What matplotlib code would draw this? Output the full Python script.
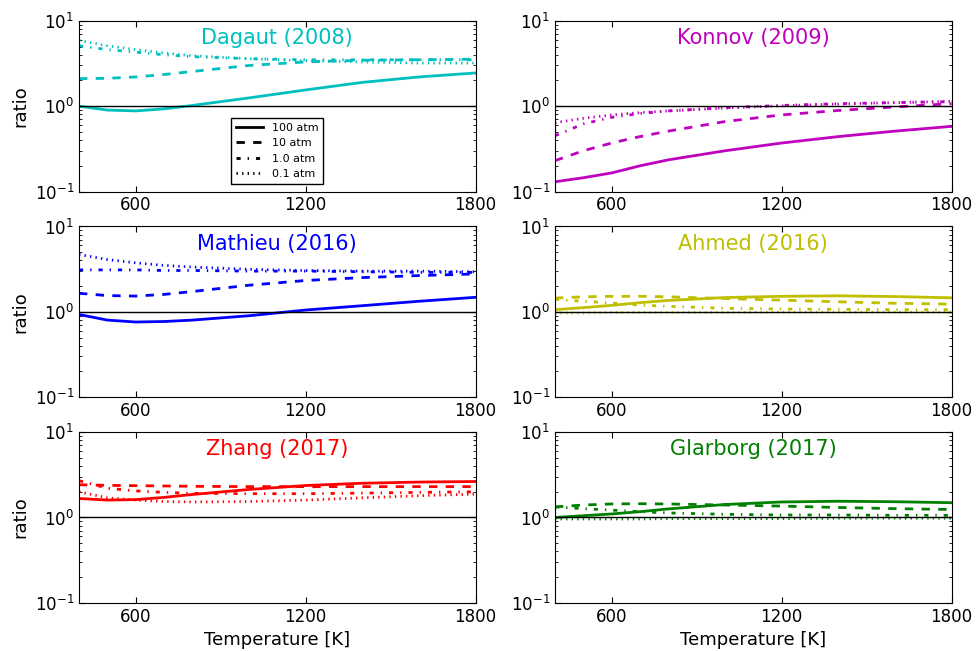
import matplotlib
matplotlib.use('Agg')
import matplotlib.pyplot as plt
from matplotlib.lines import Line2D
import numpy as np

# old-style dash patterns, not scaled with line width
plt.rcParams['lines.scale_dashes'] = False
plt.rcParams['lines.dashed_pattern'] = [6, 6]
plt.rcParams['lines.dashdot_pattern'] = [3, 5, 1, 5]
plt.rcParams['lines.dotted_pattern'] = [1, 3]
plt.rcParams['xtick.direction'] = 'in'
plt.rcParams['ytick.direction'] = 'in'
plt.rcParams['xtick.top'] = True
plt.rcParams['ytick.right'] = True
plt.rcParams['xtick.major.size'] = 4
plt.rcParams['ytick.major.size'] = 4
plt.rcParams['ytick.minor.size'] = 2.5
plt.rcParams['ytick.minor.visible'] = True
plt.rcParams['font.size'] = 12

T = [400, 500, 600, 700, 800, 1000, 1200, 1400, 1600, 1800]
pressures = ['100 atm', '10 atm', '1.0 atm', '0.1 atm']
styles = ['-', '--', '-.', ':']

models = ['Dagaut (2008)', 'Konnov (2009)', 'Mathieu (2016)',
          'Ahmed (2016)', 'Zhang (2017)', 'Glarborg (2017)']
colors = [(0, 0.75, 0.75), (0.75, 0, 0.75), (0, 0, 1),
          (0.75, 0.75, 0), (1, 0, 0), (0, 0.5, 0)]

# rate ratio for each model, rows: 100, 10, 1.0, 0.1 atm
dagaut = [
    [1.0, 0.9, 0.88, 0.93, 1.02, 1.25, 1.55, 1.9, 2.2, 2.45],
    [2.1, 2.12, 2.2, 2.35, 2.55, 3.0, 3.3, 3.45, 3.5, 3.55],
    [5.1, 4.6, 4.3, 4.0, 3.8, 3.6, 3.5, 3.5, 3.5, 3.5],
    [5.9, 5.1, 4.6, 4.2, 3.9, 3.6, 3.4, 3.3, 3.2, 3.2],
]
konnov = [
    [0.13, 0.145, 0.165, 0.2, 0.235, 0.3, 0.37, 0.44, 0.51, 0.58],
    [0.23, 0.3, 0.37, 0.44, 0.51, 0.66, 0.79, 0.89, 0.98, 1.07],
    [0.45, 0.62, 0.74, 0.82, 0.88, 0.96, 1.02, 1.07, 1.1, 1.13],
    [0.64, 0.72, 0.79, 0.84, 0.88, 0.95, 1.01, 1.06, 1.1, 1.14],
]
mathieu = [
    [0.93, 0.8, 0.76, 0.77, 0.8, 0.9, 1.05, 1.18, 1.33, 1.48],
    [1.65, 1.55, 1.53, 1.6, 1.73, 2.05, 2.33, 2.52, 2.66, 2.78],
    [3.1, 3.1, 3.1, 3.05, 3.05, 3.0, 3.0, 2.95, 2.9, 2.9],
    [4.7, 4.1, 3.75, 3.5, 3.35, 3.15, 3.05, 3.0, 3.0, 2.95],
]
ahmed = [
    [1.06, 1.12, 1.19, 1.28, 1.36, 1.47, 1.52, 1.54, 1.51, 1.46],
    [1.45, 1.5, 1.52, 1.52, 1.5, 1.43, 1.37, 1.31, 1.26, 1.23],
    [1.4, 1.33, 1.27, 1.2, 1.16, 1.1, 1.08, 1.07, 1.06, 1.06],
    [0.97, 0.97, 0.98, 0.98, 0.98, 0.98, 0.99, 0.99, 0.99, 0.99],
]
zhang = [
    [1.67, 1.6, 1.62, 1.72, 1.86, 2.13, 2.37, 2.52, 2.6, 2.64],
    [2.42, 2.38, 2.36, 2.34, 2.32, 2.3, 2.3, 2.3, 2.3, 2.3],
    [2.7, 2.2, 2.05, 1.97, 1.92, 1.9, 1.9, 1.93, 1.97, 2.0],
    [2.0, 1.7, 1.6, 1.54, 1.52, 1.54, 1.6, 1.7, 1.8, 1.88],
]
glarborg = [
    [1.0, 1.05, 1.1, 1.17, 1.26, 1.42, 1.52, 1.55, 1.53, 1.49],
    [1.33, 1.4, 1.44, 1.45, 1.44, 1.4, 1.36, 1.31, 1.27, 1.24],
    [1.33, 1.27, 1.22, 1.17, 1.13, 1.09, 1.07, 1.07, 1.06, 1.06],
    [0.96, 0.96, 0.96, 0.96, 0.97, 0.97, 0.97, 0.98, 0.98, 0.98],
]
ratios = [dagaut, konnov, mathieu, ahmed, zhang, glarborg]

fig, axes = plt.subplots(3, 2, figsize=(9.76, 6.51), dpi=100)
fig.subplots_adjust(left=0.081, right=0.975, top=0.968, bottom=0.074,
                    wspace=0.2, hspace=0.205)

for i, ax in enumerate(axes.flat):
    for j in range(4):
        ax.plot(T, ratios[i][j], styles[j], color=colors[i], lw=2)
    ax.axhline(1.0, color='k', lw=1)
    ax.set_yscale('log')
    ax.set_ylim(0.1, 10)
    ax.set_xlim(400, 1800)
    ax.set_xticks([600, 1200, 1800])
    ax.text(0.5, 0.9, models[i], color=colors[i], fontsize=15,
            ha='center', va='center', transform=ax.transAxes)
    if i % 2 == 0:
        ax.set_ylabel('ratio', fontsize=13)
    if i >= 4:
        ax.set_xlabel('Temperature [K]', fontsize=13)

handles = [Line2D([], [], color='k', ls=s, lw=2) for s in styles]
axes[0, 0].legend(handles, pressures, loc='lower center', fontsize=8,
                  fancybox=False, edgecolor='k', framealpha=1,
                  handlelength=2.5, borderaxespad=0.7)

plt.savefig('out.png', dpi=100)
